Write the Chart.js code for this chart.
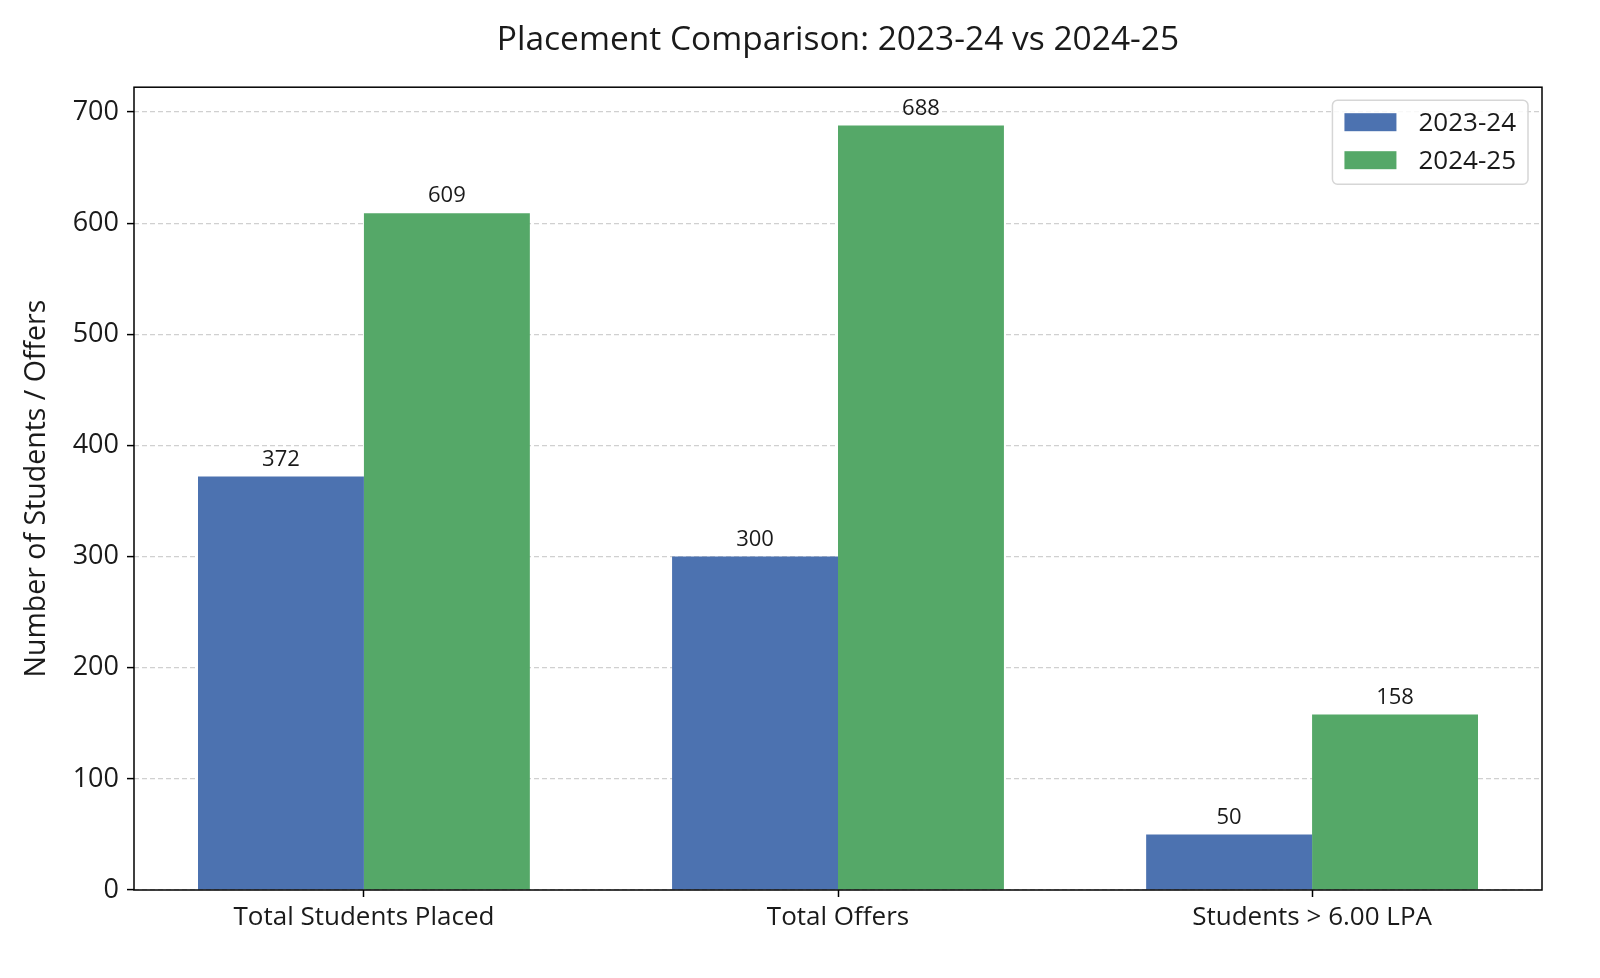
<!DOCTYPE html>
<html>
<head>
<meta charset="utf-8">
<script src="https://cdn.jsdelivr.net/npm/chart.js@4.4.1/dist/chart.umd.min.js"></script>
<style>
  html, body { margin: 0; padding: 0; background: #ffffff; }
  #wrap { width: 1600px; height: 978px; position: relative; }
</style>
</head>
<body>
<div id="wrap"><canvas id="c"></canvas></div>
<script>
const categories = ['Total Students Placed', 'Total Offers', 'Students > 6.00 LPA'];
const seriesLabels = ['2023-24', '2024-25'];
const values2324 = [372, 300, 50];
const values2425 = [609, 688, 158];
const yTicks = [0, 100, 200, 300, 400, 500, 600, 700];
const titleText = 'Placement Comparison: 2023-24 vs 2024-25';
const yTitleText = 'Number of Students / Offers';

const FONT = "'Open Sans', 'DejaVu Sans', sans-serif";
const TEXT = '#1a1a1a';
const BLUE = '#4C72B0';
const GREEN = '#55A868';

const yMax = Math.max(...values2324, ...values2425) * 1.05;

const frame = {
  id: 'frame',
  afterDatasetsDraw(chart) {
    const ctx = chart.ctx;
    ctx.save();
    ctx.font = '22px ' + FONT;
    ctx.fillStyle = TEXT;
    ctx.textAlign = 'center';
    ctx.textBaseline = 'bottom';
    chart.data.datasets.forEach((ds, di) => {
      const meta = chart.getDatasetMeta(di);
      meta.data.forEach((el, i) => {
        ctx.fillText(String(ds.data[i].y), el.x, el.y - 6);
      });
    });
    ctx.restore();
  },
  afterDraw(chart) {
    const ctx = chart.ctx;
    const a = chart.chartArea;
    ctx.save();
    ctx.strokeStyle = '#000';
    ctx.lineWidth = 1.5;
    ctx.strokeRect(a.left, a.top, a.right - a.left, a.bottom - a.top);
    ctx.restore();

    ctx.save();
    ctx.font = '26px ' + FONT;
    const textW = Math.max(...chart.data.datasets.map(d => ctx.measureText(d.label).width));
    const patchW = 52, patchH = 18, rowH = 38;
    const boxW = 12 + patchW + 22 + textW + 12;
    const boxH = 84;
    const bx = a.right - 14 - boxW;
    const by = a.top + 13;
    ctx.beginPath();
    if (ctx.roundRect) ctx.roundRect(bx, by, boxW, boxH, 5); else ctx.rect(bx, by, boxW, boxH);
    ctx.fillStyle = 'rgba(255,255,255,0.85)';
    ctx.fill();
    ctx.strokeStyle = '#d6d6d6';
    ctx.lineWidth = 1.5;
    ctx.stroke();
    chart.data.datasets.forEach((d, i) => {
      const cy = by + 22 + i * rowH;
      ctx.fillStyle = d.backgroundColor;
      ctx.fillRect(bx + 12, cy - patchH / 2, patchW, patchH);
      ctx.fillStyle = TEXT;
      ctx.textAlign = 'left';
      ctx.textBaseline = 'middle';
      ctx.fillText(d.label, bx + 12 + patchW + 22, cy + 1);
    });
    ctx.restore();
  }
};

new Chart(document.getElementById('c'), {
  type: 'bar',
  data: {
    datasets: [
      { label: seriesLabels[0], data: categories.map((c, i) => ({ x: i, y: values2324[i] })), backgroundColor: BLUE, borderWidth: 0 },
      { label: seriesLabels[1], data: categories.map((c, i) => ({ x: i, y: values2425[i] })), backgroundColor: GREEN, borderWidth: 0 }
    ]
  },
  options: {
    responsive: true,
    maintainAspectRatio: false,
    animation: false,
    categoryPercentage: 0.7,
    barPercentage: 1.0,
    layout: { padding: { left: 0, right: 58, top: 0, bottom: 0 } },
    plugins: {
      legend: { display: false },
      tooltip: { enabled: false },
      title: {
        display: true,
        fullSize: false,
        text: titleText,
        color: TEXT,
        font: { family: FONT, size: 33.5, weight: 'normal' },
        lineHeight: 1.2,
        padding: { top: 20, bottom: 27 }
      }
    },
    scales: {
      x: {
        type: 'linear',
        min: -0.485,
        max: 2.485,
        offset: false,
        afterBuildTicks: s => { s.ticks = categories.map((c, i) => ({ value: i })); },
        afterFit: s => { s.height = 88; },
        ticks: {
          autoSkip: false,
          maxRotation: 0,
          padding: 5,
          color: TEXT,
          font: { family: FONT, size: 26 },
          callback: v => categories[v]
        },
        grid: { offset: false, drawOnChartArea: false, drawTicks: true, tickLength: 7, tickColor: '#000', tickWidth: 1.5 },
        border: { display: false }
      },
      y: {
        type: 'linear',
        min: 0,
        max: yMax,
        z: 1,
        afterBuildTicks: s => { s.ticks = yTicks.map(v => ({ value: v })); },
        afterFit: s => { s.width = 134; },
        ticks: {
          padding: 8,
          color: TEXT,
          font: { family: FONT, size: 27 }
        },
        grid: {
          color: 'rgba(176,176,176,0.6)',
          lineWidth: 1.2,
          drawTicks: true,
          tickLength: 7,
          tickColor: '#000',
          tickWidth: 1.5,
          tickBorderDash: []
        },
        border: { display: false, dash: [5, 3] },
        title: {
          display: true,
          text: yTitleText,
          color: TEXT,
          font: { family: FONT, size: 28.5 },
          padding: { top: 20, bottom: 0 }
        }
      }
    }
  },
  plugins: [frame]
});
</script>
</body>
</html>
